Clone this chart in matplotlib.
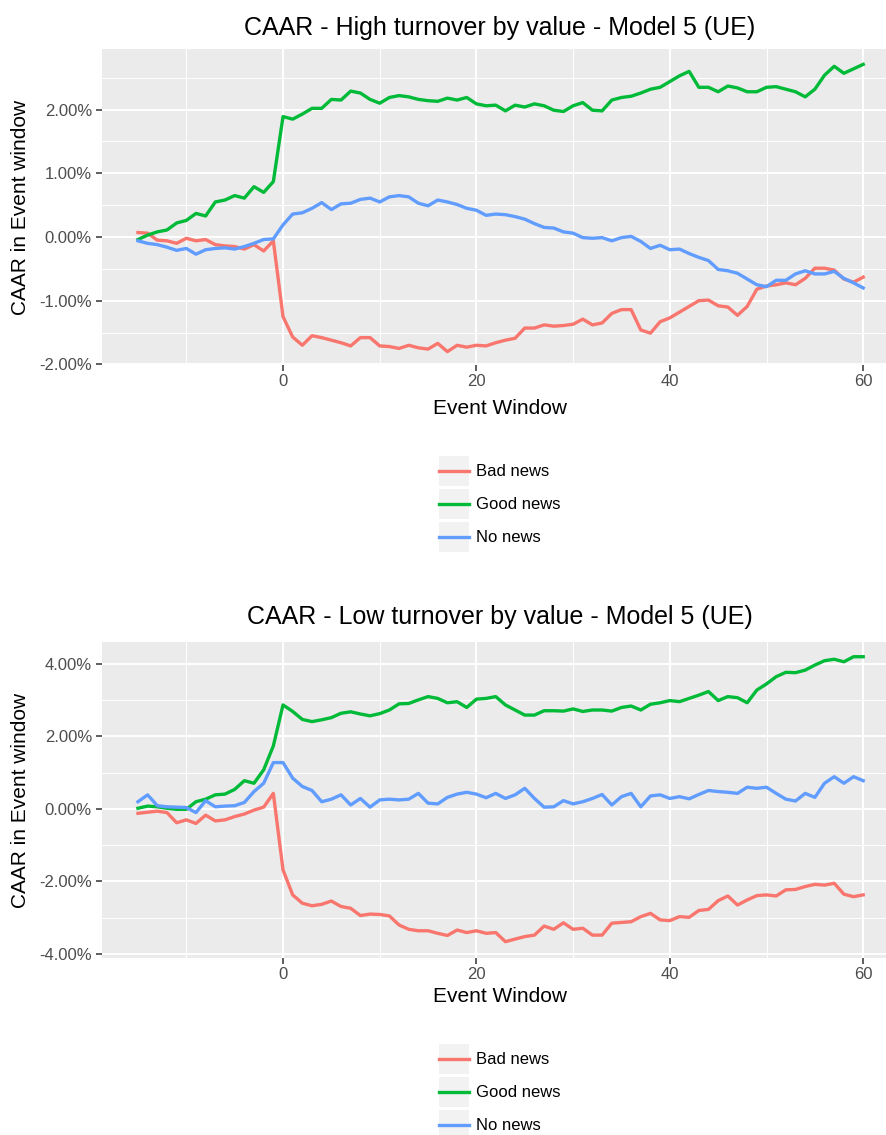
import matplotlib
matplotlib.use("Agg")
import matplotlib.pyplot as plt
from matplotlib.ticker import FuncFormatter, FixedLocator
from matplotlib.legend_handler import HandlerLine2D
from matplotlib.patches import Rectangle

plt.rcParams['font.family'] = ['Liberation Sans', 'DejaVu Sans']

event_window = list(range(-15, 61))
series_names = ["Bad news", "Good news", "No news"]
series_colors = ["#F8766D", "#00BA38", "#619CFF"]

high_bad = [0.07, 0.06, -0.05, -0.06, -0.10, -0.02, -0.06, -0.04, -0.12, -0.14, -0.15, -0.19, -0.12, -0.22, -0.06,
            -1.25, -1.57, -1.70, -1.55, -1.58, -1.62, -1.66, -1.71, -1.58, -1.58, -1.71, -1.72, -1.75, -1.70, -1.74,
            -1.76, -1.67, -1.80, -1.70, -1.73, -1.70, -1.71, -1.66, -1.62, -1.59, -1.43, -1.43, -1.38, -1.40, -1.39,
            -1.37, -1.29, -1.38, -1.35, -1.20, -1.14, -1.14, -1.46, -1.51, -1.33, -1.27, -1.18, -1.09, -1.00, -0.99,
            -1.08, -1.10, -1.23, -1.09, -0.82, -0.77, -0.75, -0.72, -0.75, -0.65, -0.49, -0.49, -0.52, -0.66, -0.71,
            -0.63]
high_good = [-0.04, 0.03, 0.08, 0.11, 0.22, 0.26, 0.37, 0.33, 0.55, 0.58, 0.65, 0.61, 0.79, 0.70, 0.87,
             1.89, 1.85, 1.93, 2.02, 2.02, 2.16, 2.15, 2.29, 2.26, 2.16, 2.10, 2.19, 2.22, 2.20, 2.16,
             2.14, 2.13, 2.18, 2.15, 2.19, 2.09, 2.06, 2.07, 1.98, 2.07, 2.04, 2.09, 2.06, 1.99, 1.97,
             2.06, 2.11, 1.99, 1.98, 2.15, 2.19, 2.21, 2.26, 2.32, 2.35, 2.44, 2.53, 2.60, 2.35, 2.35,
             2.28, 2.37, 2.34, 2.28, 2.28, 2.35, 2.36, 2.32, 2.28, 2.20, 2.32, 2.54, 2.68, 2.57, 2.64,
             2.71]
high_none = [-0.06, -0.10, -0.12, -0.16, -0.21, -0.18, -0.27, -0.20, -0.18, -0.17, -0.19, -0.15, -0.10, -0.04, -0.03,
             0.19, 0.36, 0.38, 0.45, 0.54, 0.43, 0.52, 0.53, 0.59, 0.61, 0.55, 0.63, 0.65, 0.63, 0.53,
             0.49, 0.58, 0.55, 0.51, 0.45, 0.42, 0.34, 0.36, 0.35, 0.32, 0.28, 0.21, 0.15, 0.14, 0.08,
             0.06, -0.01, -0.02, -0.01, -0.06, -0.01, 0.01, -0.07, -0.18, -0.13, -0.20, -0.19, -0.26, -0.32, -0.37,
             -0.51, -0.53, -0.57, -0.66, -0.75, -0.78, -0.68, -0.68, -0.58, -0.53, -0.58, -0.58, -0.54, -0.65, -0.72,
             -0.80]

low_bad = [-0.12, -0.09, -0.06, -0.10, -0.38, -0.30, -0.40, -0.17, -0.33, -0.30, -0.21, -0.14, -0.03, 0.05, 0.43,
           -1.68, -2.37, -2.60, -2.67, -2.63, -2.54, -2.69, -2.74, -2.94, -2.90, -2.91, -2.95, -3.20, -3.32, -3.36,
           -3.36, -3.43, -3.49, -3.34, -3.41, -3.36, -3.43, -3.41, -3.66, -3.59, -3.52, -3.48, -3.23, -3.32, -3.14,
           -3.32, -3.29, -3.48, -3.48, -3.15, -3.13, -3.11, -2.97, -2.88, -3.06, -3.08, -2.97, -2.99, -2.80, -2.77,
           -2.53, -2.40, -2.65, -2.51, -2.39, -2.37, -2.40, -2.23, -2.22, -2.14, -2.08, -2.10, -2.05, -2.35, -2.42,
           -2.37]
low_good = [0.02, 0.08, 0.06, 0.02, -0.01, -0.01, 0.20, 0.27, 0.39, 0.41, 0.54, 0.78, 0.71, 1.08, 1.74,
            2.87, 2.69, 2.47, 2.41, 2.46, 2.52, 2.64, 2.68, 2.62, 2.57, 2.63, 2.73, 2.90, 2.91, 3.01,
            3.10, 3.05, 2.93, 2.96, 2.80, 3.03, 3.05, 3.10, 2.87, 2.73, 2.59, 2.59, 2.71, 2.71, 2.70,
            2.76, 2.69, 2.73, 2.73, 2.70, 2.80, 2.84, 2.73, 2.89, 2.93, 2.99, 2.96, 3.05, 3.14, 3.24,
            2.99, 3.10, 3.07, 2.93, 3.28, 3.45, 3.65, 3.77, 3.76, 3.83, 3.97, 4.09, 4.13, 4.06, 4.20,
            4.20]
low_none = [0.20, 0.39, 0.09, 0.06, 0.05, 0.04, -0.10, 0.23, 0.06, 0.08, 0.09, 0.18, 0.48, 0.71, 1.28,
            1.28, 0.85, 0.62, 0.51, 0.20, 0.27, 0.39, 0.11, 0.29, 0.05, 0.25, 0.27, 0.25, 0.27, 0.43,
            0.16, 0.14, 0.32, 0.41, 0.46, 0.41, 0.31, 0.43, 0.29, 0.39, 0.57, 0.29, 0.05, 0.06, 0.23,
            0.14, 0.20, 0.29, 0.40, 0.11, 0.34, 0.43, 0.06, 0.36, 0.39, 0.29, 0.34, 0.28, 0.40, 0.51,
            0.48, 0.46, 0.43, 0.60, 0.57, 0.60, 0.43, 0.27, 0.22, 0.43, 0.32, 0.71, 0.89, 0.71, 0.89,
            0.78]

x_ticks = [0, 20, 40, 60]
high_y_ticks = [-2, -1, 0, 1, 2]
low_y_ticks = [-4, -2, 0, 2, 4]
titles = ["CAAR - High turnover by value - Model 5 (UE)", "CAAR - Low turnover by value - Model 5 (UE)"]
x_label = "Event Window"
y_label = "CAAR in Event window"

W, H = 887, 1135
fig = plt.figure(figsize=(W / 100, H / 100), dpi=100)


class KeyHandler(HandlerLine2D):
    def create_artists(self, legend, orig_handle, xdescent, ydescent, width, height, fontsize, trans):
        arts = super().create_artists(legend, orig_handle, xdescent, ydescent, width, height, fontsize, trans)
        ly = height / 2 - ydescent
        for a in arts:
            a.set_ydata([ly] * len(a.get_xdata()))
        rect = Rectangle((-xdescent, -ydescent), width, height, facecolor="#F2F2F2",
                         edgecolor="none", transform=trans)
        return [rect] + list(arts)


def px_ax(left, top, bottom):
    return [left / W, 1 - bottom / H, (W - left) / W, (bottom - top) / H]


def make_panel(rect, data, yticks, ylim, title, title_y, xlabel_y, legend_y, ylabel_y):
    ax = fig.add_axes(rect)
    ax.set_facecolor("#EBEBEB")
    for s in ax.spines.values():
        s.set_visible(False)
    handles = []
    for name, col, vals in zip(series_names, series_colors, data):
        h, = ax.plot(event_window, vals, color=col, lw=2.4, solid_joinstyle="round", label=name, zorder=3)
        handles.append(h)
    ax.set_xlim(-18.75, 62.46)
    ax.set_ylim(*ylim)
    ax.xaxis.set_major_locator(FixedLocator(x_ticks))
    ax.xaxis.set_minor_locator(FixedLocator([(a + b) / 2 for a, b in zip([-20] + x_ticks, x_ticks + [80])]))
    ax.yaxis.set_major_locator(FixedLocator(yticks))
    step = yticks[1] - yticks[0]
    ax.yaxis.set_minor_locator(FixedLocator([t - step / 2 for t in yticks] + [yticks[-1] + step / 2]))
    ax.yaxis.set_major_formatter(FuncFormatter(lambda v, p: f"{v:.2f}%"))
    ax.grid(which="major", color="white", lw=1.4, zorder=0)
    ax.grid(which="minor", color="white", lw=0.7, zorder=0)
    ax.set_axisbelow(True)
    ax.tick_params(which="major", length=4.5, width=1.1, color="#333333", labelcolor="#4D4D4D",
                   labelsize=12, pad=2.5)
    ax.tick_params(which="minor", length=0)
    fig.text(500 / W, 1 - title_y / H, title, ha="center", va="center", fontsize=18, color="black")
    fig.text(500 / W, 1 - xlabel_y / H, x_label, ha="center", va="center", fontsize=15, color="black")
    fig.text(21 / W, 1 - ylabel_y / H, y_label, ha="center", va="center", rotation=90, fontsize=15,
             color="black")
    fig.legend(handles=handles, loc="center", bbox_to_anchor=(500 / W, 1 - legend_y / H),
               bbox_transform=fig.transFigure, frameon=False, fontsize=12, handlelength=1.8,
               handleheight=2.39, labelspacing=0.18, handletextpad=0.4, borderpad=0,
               handler_map={matplotlib.lines.Line2D: KeyHandler()})
    return ax


make_panel(px_ax(101.7, 49.4, 364.7), [high_bad, high_good, high_none], high_y_ticks, (-2.005, 2.945),
           titles[0], 28, 408, 504, 207)
make_panel(px_ax(101.7, 641.5, 957.6), [low_bad, low_good, low_none], low_y_ticks, (-4.1, 4.62),
           titles[1], 617, 997, 1092, 800)

fig.savefig("out.png", dpi=100, facecolor="white")
